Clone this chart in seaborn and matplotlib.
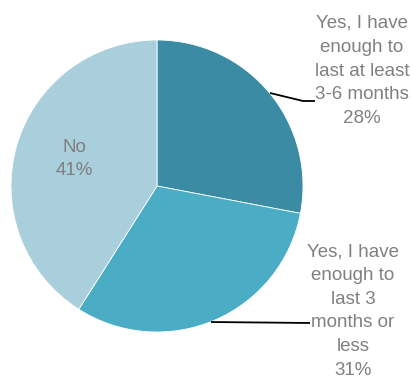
import matplotlib
matplotlib.use("Agg")
import matplotlib.pyplot as plt
import seaborn as sns
import numpy as np

sns.set_theme(style="white")
plt.rcParams['font.family'] = ['Liberation Sans', 'DejaVu Sans']

labels = ["Yes, I have\nenough to\nlast at least\n3-6 months", "Yes, I have\nenough to\nlast 3\nmonths or\nless", "No"]
shares = [28, 31, 41]
colors = ["#3A8BA3", "#4BACC6", "#A9CEDC"]
text_gray = "#808080"

W, H = 411, 379
cx, cy, r = 157, 186, 146

fig = plt.figure(figsize=(W / 100, H / 100), dpi=100)
ax = fig.add_axes([(cx - r) / W, (H - cy - r) / H, 2 * r / W, 2 * r / H])

wedges, _ = ax.pie(shares, colors=colors, startangle=90, counterclock=False,
                   radius=1, wedgeprops=dict(linewidth=0.6, edgecolor="white"))
ax.set_xlim(-1, 1)
ax.set_ylim(-1, 1)
ax.set_aspect("equal")
ax.axis("off")

def px(x, y):
    return ((x - cx) / r, (cy - y) / r)

fs = 13.5
ls = 1.52

# outside labels with leader lines
t1 = px(362, 71)
ax.text(t1[0], t1[1], f"{labels[0]}\n{shares[0]}%", ha="center", va="center",
        fontsize=fs, color=text_gray, linespacing=ls, clip_on=False)
pts = np.array([px(270, 93), px(303, 101), px(315, 101)])
ax.plot(pts[:, 0], pts[:, 1], color="black", lw=1.3, clip_on=False, solid_capstyle="butt")

t2 = px(353, 311)
ax.text(t2[0], t2[1], f"{labels[1]}\n{shares[1]}%", ha="center", va="center",
        fontsize=fs, color=text_gray, linespacing=ls, clip_on=False)
pts = np.array([px(211, 322), px(310, 323)])
ax.plot(pts[:, 0], pts[:, 1], color="black", lw=1.3, clip_on=False, solid_capstyle="butt")

# inside label
t3 = px(74, 159)
ax.text(t3[0], t3[1], f"{labels[2]}\n{shares[2]}%", ha="center", va="center",
        fontsize=fs, color=text_gray, linespacing=ls)

fig.savefig("out.png", dpi=100)
